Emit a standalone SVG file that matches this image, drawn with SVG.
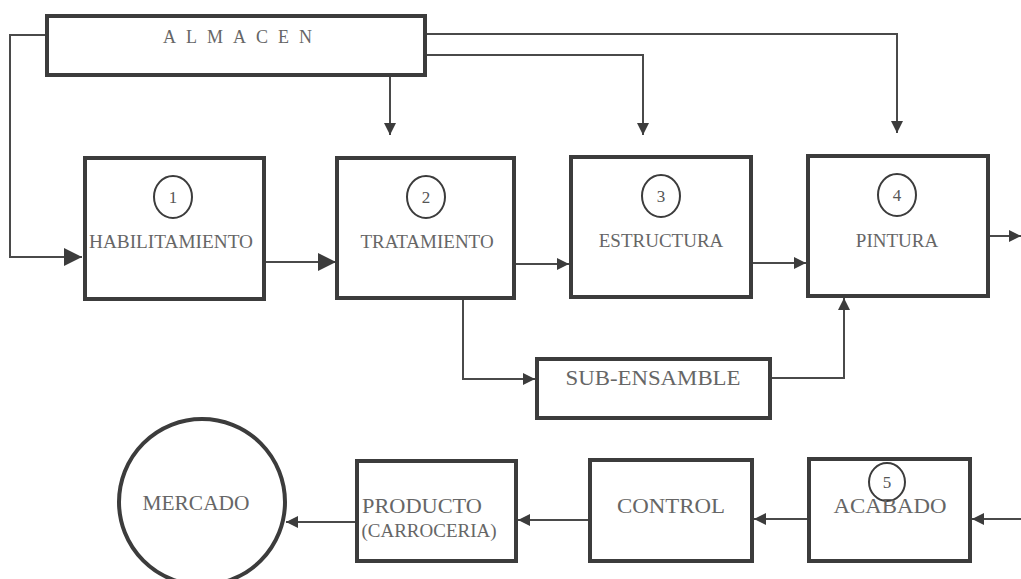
<svg xmlns="http://www.w3.org/2000/svg" width="1021" height="579" viewBox="0 0 1021 579">
<style>
.box{fill:#fff;stroke:#3c3c3c;stroke-width:4}
.num{fill:none;stroke:#3c3c3c;stroke-width:2}
.t{font-family:"Liberation Serif","Times New Roman",serif;fill:#666;text-anchor:middle}
.n{font-family:"Liberation Serif","Times New Roman",serif;fill:#555;text-anchor:middle;font-size:17px}
.c{fill:none;stroke:#4a4a4a;stroke-width:2}
</style>
<defs>
<marker id="aL" markerUnits="userSpaceOnUse" markerWidth="18" markerHeight="18" refX="18" refY="9" orient="auto"><path d="M0,0 L18,9 L0,18 z" fill="#3c3c3c"/></marker>
<marker id="aS" markerUnits="userSpaceOnUse" markerWidth="12" markerHeight="12" refX="12" refY="6" orient="auto"><path d="M0,0 L12,6 L0,12 z" fill="#3c3c3c"/></marker>
</defs>
<rect width="1021" height="579" fill="#fff"/>
<g id="connectors">
<path class="c" d="M45,35 H10 V257 H82" marker-end="url(#aL)"/>
<path class="c" d="M266,262 H336" marker-end="url(#aL)"/>
<path class="c" d="M390,77 V135" marker-end="url(#aS)"/>
<path class="c" d="M427,55 H643 V135" marker-end="url(#aS)"/>
<path class="c" d="M427,34 H897 V133" marker-end="url(#aS)"/>
<path class="c" d="M516,264 H569" marker-end="url(#aS)"/>
<path class="c" d="M753,263 H806" marker-end="url(#aS)"/>
<path class="c" d="M990,236 H1021" marker-end="url(#aS)"/>
<path class="c" d="M463,300 V379 H535" marker-end="url(#aS)"/>
<path class="c" d="M772,378 H844 V298" marker-end="url(#aS)"/>
<path class="c" d="M1021,519 H972" marker-end="url(#aS)"/>
<path class="c" d="M807,519 H754" marker-end="url(#aS)"/>
<path class="c" d="M588,520 H518" marker-end="url(#aS)"/>
<path class="c" d="M355,522 H286" marker-end="url(#aS)"/>
</g>
<g id="almacen">
<rect class="box" x="47" y="16" width="378" height="59"/>
<text x="163" y="43" font-family="Liberation Serif, serif" font-size="18" fill="#666" letter-spacing="10">ALMACEN</text>
</g>
<g id="habilitamiento">
<rect class="box" x="85" y="158" width="179" height="141"/>
<ellipse class="num" cx="173" cy="197" rx="19" ry="21"/>
<text class="n" x="173" y="203">1</text>
<text class="t" x="171" y="248" font-size="19" textLength="164" lengthAdjust="spacingAndGlyphs">HABILITAMIENTO</text>
</g>
<g id="tratamiento">
<rect class="box" x="337" y="158" width="177" height="140"/>
<ellipse class="num" cx="426" cy="197" rx="19" ry="21"/>
<text class="n" x="426" y="203">2</text>
<text class="t" x="427" y="248" font-size="19">TRATAMIENTO</text>
</g>
<g id="estructura">
<rect class="box" x="571" y="157" width="180" height="140"/>
<ellipse class="num" cx="661" cy="196" rx="19" ry="21"/>
<text class="n" x="661" y="202">3</text>
<text class="t" x="661" y="247" font-size="19">ESTRUCTURA</text>
</g>
<g id="pintura">
<rect class="box" x="808" y="156" width="180" height="140"/>
<ellipse class="num" cx="897" cy="195" rx="19" ry="21"/>
<text class="n" x="897" y="201">4</text>
<text class="t" x="897" y="247" font-size="19">PINTURA</text>
</g>
<g id="subensamble">
<rect class="box" x="537" y="359" width="233" height="59"/>
<text class="t" x="653" y="385" font-size="22" textLength="175" lengthAdjust="spacingAndGlyphs">SUB-ENSAMBLE</text>
</g>
<g id="acabado">
<rect class="box" x="809" y="459" width="161" height="102"/>
<ellipse class="num" cx="887" cy="482" rx="18" ry="19"/>
<text class="n" x="887" y="488">5</text>
<text class="t" x="890" y="513" font-size="22" textLength="113" lengthAdjust="spacingAndGlyphs">ACABADO</text>
</g>
<g id="control">
<rect class="box" x="590" y="460" width="162" height="101"/>
<text class="t" x="671" y="513" font-size="22" textLength="108" lengthAdjust="spacingAndGlyphs">CONTROL</text>
</g>
<g id="producto">
<rect class="box" x="357" y="461" width="159" height="100"/>
<text class="t" x="422" y="513" font-size="21" textLength="120" lengthAdjust="spacingAndGlyphs">PRODUCTO</text>
<text class="t" x="429" y="537" font-size="19" textLength="135" lengthAdjust="spacingAndGlyphs">(CARROCERIA)</text>
</g>
<g id="mercado">
<ellipse class="box" cx="202" cy="502" rx="83" ry="83"/>
<text class="t" x="196" y="510" font-size="21" textLength="107" lengthAdjust="spacingAndGlyphs">MERCADO</text>
</g>
</svg>
